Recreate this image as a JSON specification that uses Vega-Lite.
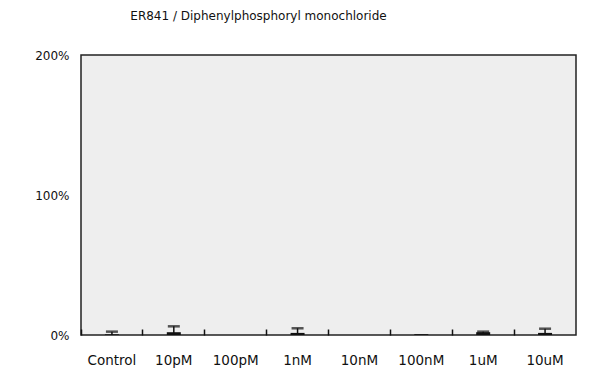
{
  "$schema": "https://vega.github.io/schema/vega-lite/v6.json",
  "width": 495,
  "height": 280,
  "padding": {"top": 10, "left": 34, "right": 20, "bottom": 10},
  "background": "white",
  "title": {
    "text": "ER841 / Diphenylphosphoryl monochloride",
    "font": "DejaVu Sans",
    "fontSize": 12,
    "fontWeight": "normal",
    "color": "#111",
    "anchor": "middle",
    "dx": -70,
    "offset": 26
  },
  "data": {
    "values": [
      {"conc": "Control", "v": 0.005, "lo": 0, "hi": 0.024},
      {"conc": "10pM", "v": 0.02, "lo": 0, "hi": 0.062},
      {"conc": "100pM", "v": 0, "lo": null, "hi": null},
      {"conc": "1nM", "v": 0.015, "lo": 0, "hi": 0.048},
      {"conc": "10nM", "v": 0, "lo": null, "hi": null},
      {"conc": "100nM", "v": 0.006, "lo": null, "hi": null},
      {"conc": "1uM", "v": 0.02, "lo": 0.012, "hi": 0.024},
      {"conc": "10uM", "v": 0.015, "lo": 0, "hi": 0.045}
    ]
  },
  "encoding": {
    "x": {
      "field": "conc",
      "type": "nominal",
      "sort": null,
      "scale": {"paddingInner": 0, "paddingOuter": 0},
      "axis": {
        "title": null,
        "labelAngle": 0,
        "bandPosition": 0,
        "tickSize": -6,
        "tickColor": "#111",
        "tickWidth": 1.5,
        "domain": false,
        "labelPadding": 24,
        "labelFont": "DejaVu Sans",
        "labelFontSize": 13.5,
        "labelColor": "#111"
      }
    }
  },
  "layer": [
    {
      "mark": {"type": "bar", "color": "#111", "size": 14},
      "encoding": {
        "y": {
          "field": "v",
          "type": "quantitative",
          "scale": {"domain": [0, 2], "nice": false},
          "axis": {
            "title": null,
            "values": [0, 1, 2],
            "format": ".0%",
            "grid": false,
            "ticks": false,
            "domain": false,
            "labelPadding": 12,
            "labelFont": "DejaVu Sans",
            "labelFontSize": 12,
            "labelColor": "#111"
          }
        }
      }
    },
    {
      "mark": {"type": "rule", "color": "#111", "strokeWidth": 1.5},
      "encoding": {
        "y": {"field": "lo", "type": "quantitative"},
        "y2": {"field": "hi"}
      }
    },
    {
      "mark": {"type": "tick", "color": "#111", "size": 12, "thickness": 2.5},
      "encoding": {
        "y": {"field": "hi", "type": "quantitative"}
      }
    }
  ],
  "config": {
    "view": {"fill": "#eeeeee", "stroke": "#222", "strokeWidth": 1.5}
  }
}
